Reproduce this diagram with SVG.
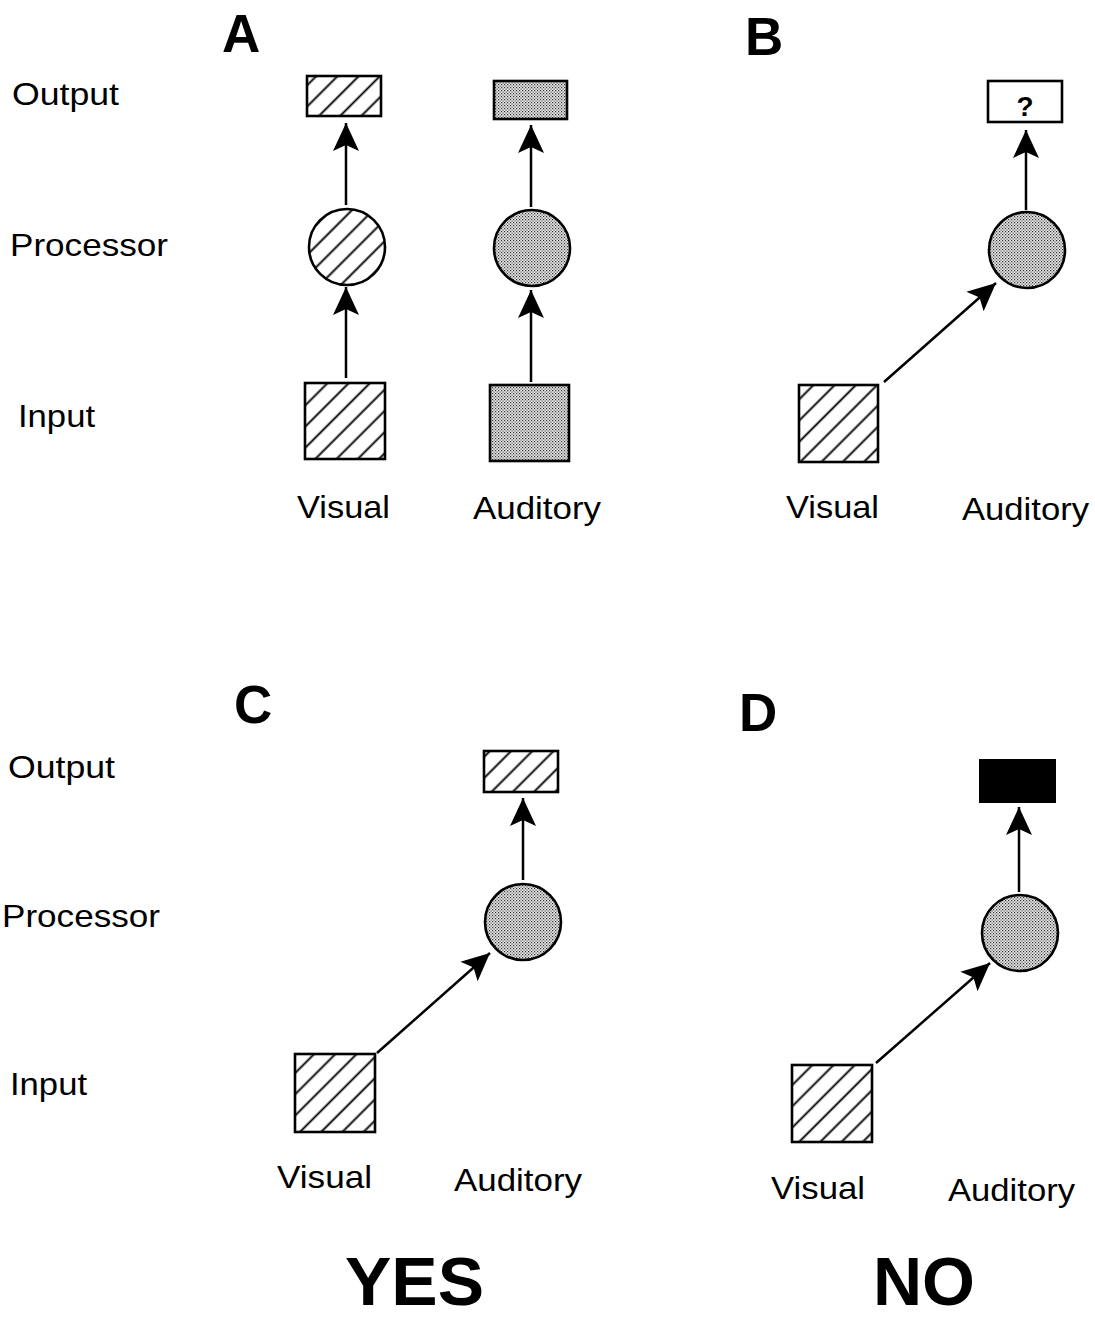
<svg xmlns="http://www.w3.org/2000/svg" width="1095" height="1317" viewBox="0 0 1095 1317">
<defs>
<pattern id="hatch" patternUnits="userSpaceOnUse" width="15" height="15" patternTransform="rotate(45)">
<rect width="15" height="15" fill="#fff"/>
<line x1="7.5" y1="0" x2="7.5" y2="15" stroke="#000" stroke-width="1.9"/>
</pattern>
<pattern id="dots" patternUnits="userSpaceOnUse" width="3" height="3">
<rect width="3" height="3" fill="#e6e6e6"/>
<rect x="0" y="0" width="1.2" height="1.2" fill="#333"/>
<rect x="1.5" y="1.5" width="1.2" height="1.2" fill="#555"/>
</pattern>
<marker id="arr" viewBox="0 0 28 28" refX="28" refY="14" markerWidth="28" markerHeight="28" markerUnits="userSpaceOnUse" orient="auto">
<path d="M28,14 L0,1 L6,14 L0,27 Z" fill="#000"/>
</marker>
</defs>
<style>
.lbl{font-family:"Liberation Sans",Arial,sans-serif;font-size:32px;fill:#000}
.big{font-family:"Liberation Sans",Arial,sans-serif;font-weight:bold;font-size:53px;fill:#000}
.yn{font-family:"Liberation Sans",Arial,sans-serif;font-weight:bold;font-size:68px;fill:#000}
.h{fill:url(#hatch);stroke:#000;stroke-width:2.6}
.d{fill:url(#dots);stroke:#000;stroke-width:2.6}
.w{fill:#fff;stroke:#000;stroke-width:2.6}
.k{fill:#000;stroke:#000;stroke-width:2}
.c{stroke:#000;stroke-width:2.5;fill:none;marker-end:url(#arr)}
</style>
<rect width="1095" height="1317" fill="#fff"/>

<g id="labels">
<text class="big" x="222" y="52">A</text>
<text class="big" x="745" y="55">B</text>
<text class="big" x="234" y="723">C</text>
<text class="big" x="739" y="731">D</text>
<text class="lbl" x="12" y="105" textLength="107" lengthAdjust="spacingAndGlyphs">Output</text>
<text class="lbl" x="10" y="256" textLength="158" lengthAdjust="spacingAndGlyphs">Processor</text>
<text class="lbl" x="18" y="427" textLength="77" lengthAdjust="spacingAndGlyphs">Input</text>
<text class="lbl" x="297" y="518" textLength="93" lengthAdjust="spacingAndGlyphs">Visual</text>
<text class="lbl" x="473" y="519" textLength="128" lengthAdjust="spacingAndGlyphs">Auditory</text>
<text class="lbl" x="786" y="518" textLength="93" lengthAdjust="spacingAndGlyphs">Visual</text>
<text class="lbl" x="962" y="520" textLength="127" lengthAdjust="spacingAndGlyphs">Auditory</text>
<text class="lbl" x="8" y="778" textLength="107" lengthAdjust="spacingAndGlyphs">Output</text>
<text class="lbl" x="2" y="927" textLength="158" lengthAdjust="spacingAndGlyphs">Processor</text>
<text class="lbl" x="10" y="1095" textLength="77" lengthAdjust="spacingAndGlyphs">Input</text>
<text class="lbl" x="277" y="1188" textLength="95" lengthAdjust="spacingAndGlyphs">Visual</text>
<text class="lbl" x="454" y="1191" textLength="128" lengthAdjust="spacingAndGlyphs">Auditory</text>
<text class="lbl" x="771" y="1199" textLength="94" lengthAdjust="spacingAndGlyphs">Visual</text>
<text class="lbl" x="948" y="1201" textLength="127" lengthAdjust="spacingAndGlyphs">Auditory</text>
<text class="yn" x="345" y="1305" textLength="139" lengthAdjust="spacingAndGlyphs">YES</text>
<text class="yn" x="873" y="1305" textLength="102" lengthAdjust="spacingAndGlyphs">NO</text>
</g>

<g id="nodeA-vis-out"><rect class="h" x="307" y="76" width="74" height="40"/></g>
<g id="nodeA-vis-proc"><circle class="h" cx="347" cy="247" r="38"/></g>
<g id="nodeA-vis-in"><rect class="h" x="305" y="383" width="80" height="76"/></g>
<g id="nodeA-aud-out"><rect class="d" x="494" y="81" width="73" height="38"/></g>
<g id="nodeA-aud-proc"><circle class="d" cx="532" cy="248" r="38"/></g>
<g id="nodeA-aud-in"><rect class="d" x="490" y="385" width="79" height="76"/></g>

<g id="nodeB-out"><rect class="w" x="988" y="81" width="74" height="41"/>
<text x="1025" y="116" font-family="Liberation Sans, Arial, sans-serif" font-weight="bold" font-size="28" text-anchor="middle">?</text></g>
<g id="nodeB-proc"><circle class="d" cx="1027" cy="250" r="38"/></g>
<g id="nodeB-in"><rect class="h" x="799" y="385" width="79" height="77"/></g>

<g id="nodeC-out"><rect class="h" x="484" y="751" width="74" height="41"/></g>
<g id="nodeC-proc"><circle class="d" cx="523" cy="922" r="38"/></g>
<g id="nodeC-in"><rect class="h" x="295" y="1054" width="80" height="78"/></g>

<g id="nodeD-out"><rect class="k" x="980" y="760" width="75" height="42"/></g>
<g id="nodeD-proc"><circle class="d" cx="1020" cy="933" r="38"/></g>
<g id="nodeD-in"><rect class="h" x="792" y="1065" width="80" height="77"/></g>

<g id="connectors">
<line class="c" x1="346" y1="205" x2="346" y2="123"/>
<line class="c" x1="346" y1="378" x2="346" y2="287"/>
<line class="c" x1="531" y1="207" x2="531" y2="125"/>
<line class="c" x1="531" y1="382" x2="531" y2="290"/>
<line class="c" x1="1026" y1="210" x2="1026" y2="130"/>
<line class="c" x1="884" y1="382" x2="996" y2="283"/>
<line class="c" x1="523" y1="880" x2="523" y2="798"/>
<line class="c" x1="377" y1="1053" x2="490" y2="953"/>
<line class="c" x1="1019" y1="892" x2="1019" y2="807"/>
<line class="c" x1="876" y1="1063" x2="990" y2="963"/>
</g>
</svg>
